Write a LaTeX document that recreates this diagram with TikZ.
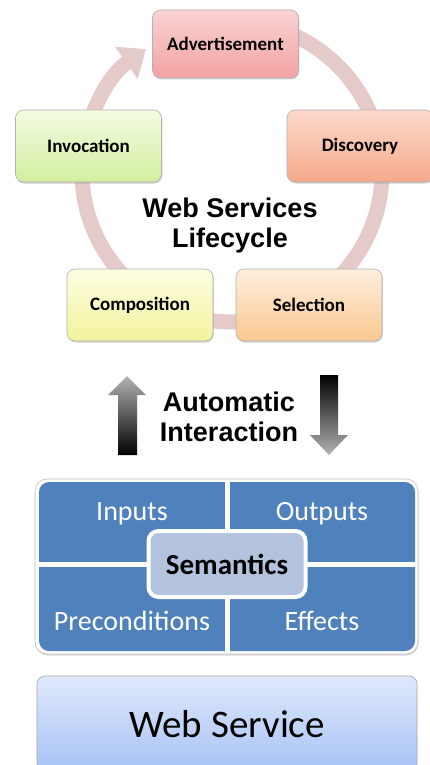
\documentclass[tikz,border=0pt]{standalone}
\usepackage{fontspec}
\setmainfont{Carlito}
\newfontfamily\headfont{Liberation Sans}
\usetikzlibrary{arrows.meta,shadows}

\definecolor{ringpink}{HTML}{E5CACA}
\definecolor{advtop}{HTML}{FBD3D3}
\definecolor{advbot}{HTML}{F3A2A2}
\definecolor{distop}{HTML}{FCDACB}
\definecolor{disbot}{HTML}{F5A98B}
\definecolor{invtop}{HTML}{F3FBE2}
\definecolor{invbot}{HTML}{D3EFA0}
\definecolor{comtop}{HTML}{FDFDE3}
\definecolor{combot}{HTML}{F3F39C}
\definecolor{seltop}{HTML}{FDEFDE}
\definecolor{selbot}{HTML}{FAC890}
\definecolor{quadblue}{HTML}{4F81BD}
\definecolor{semblue}{HTML}{B3C3DD}
\definecolor{wstop}{HTML}{DFE9FC}
\definecolor{wsbot}{HTML}{A6C2F5}

\tikzset{
  stagebox/.style={rounded corners=8pt, minimum width=146pt, minimum height=72pt,
    draw=black!30, line width=0.6pt,
    font=\bfseries\fontsize{19}{22}\selectfont,
    drop shadow={shadow xshift=0.8pt, shadow yshift=-1.5pt, opacity=0.35}},
  heading/.style={font=\headfont\bfseries\fontsize{27}{30}\selectfont, align=center},
  quadtext/.style={text=white, font=\fontsize{28}{32}\selectfont},
  ringline/.style={draw=ringpink, line width=15pt,
    -{Triangle[width=38pt,length=24pt]}},
}

\begin{document}
\begin{tikzpicture}[x=1pt,y=-1pt]
\useasboundingbox[fill=white] (0,0) rectangle (430,765);

% lifecycle ring with its arrowhead
\coordinate (ringc) at (232,172);
\draw[ringline] (ringc) ++(-90:150) arc[start angle=-90, end angle=235, radius=150];

% the five lifecycle stages
\node[stagebox, minimum height=68pt, top color=advtop, bottom color=advbot] (adv) at (225.5,44) {Advertisement};
\node[stagebox, top color=distop, bottom color=disbot] (dis) at (360,146) {Discovery};
\node[stagebox, top color=invtop, bottom color=invbot] (inv) at (88.5,146) {Invocation};
\node[stagebox, top color=comtop, bottom color=combot] (com) at (140,305) {Composition};
\node[stagebox, top color=seltop, bottom color=selbot] (sel) at (309,305) {Selection};

\node[heading] (life) at (230,226) {Web Services\\Lifecycle};

% interaction arrows
\shade[top color=black!30, bottom color=black] (127,376) -- (146,395) -- (137,395) -- (137,455)
  -- (118,455) -- (118,395) -- (108,395) -- cycle;
\shade[top color=black, bottom color=black!30] (320,375) -- (338,375) -- (338,435) -- (348,435)
  -- (329,455) -- (310,435) -- (320,435) -- cycle;
\node[heading] (auto) at (229,417) {Automatic\\Interaction};

% semantic description panel
\fill[white, draw=black!25, line width=0.6pt,
  drop shadow={shadow xshift=0.5pt, shadow yshift=-1.5pt, opacity=0.3}]
  [rounded corners=12pt] (35,479) rectangle (418,654);
\fill[quadblue, rounded corners=10pt] (39,482) rectangle (415,651);
\draw[white, line width=5pt] (227,481) -- (227,652);
\draw[white, line width=5pt] (38,564.5) -- (416,564.5);
\node[quadtext] (inp) at (132,514) {Inputs};
\node[quadtext] (outp) at (322,514) {Outputs};
\node[quadtext] (pre) at (132,621) {Preconditions};
\node[quadtext] (eff) at (322,621) {Effects};
\node[rounded corners=10pt, fill=semblue, draw=white, line width=4pt,
  minimum width=157pt, minimum height=66pt,
  font=\bfseries\fontsize{29}{32}\selectfont,
  drop shadow={shadow xshift=0.5pt, shadow yshift=-1.5pt, opacity=0.3}] (sem) at (227,564) {Semantics};

% the service itself
\node[rounded corners=8pt, minimum width=380pt, minimum height=96pt,
  top color=wstop, bottom color=wsbot, draw=black!35, line width=0.6pt,
  font=\fontsize{39}{44}\selectfont] (ws) at (227,724) {Web Service};
\end{tikzpicture}
\end{document}
